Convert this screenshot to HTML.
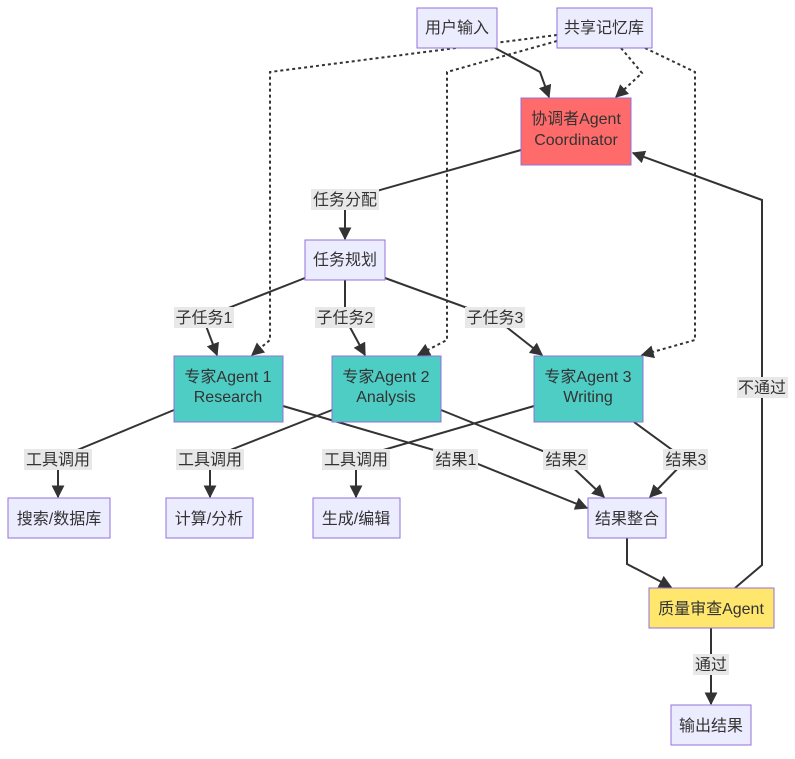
<!DOCTYPE html>
<html><head><meta charset="utf-8"><style>
html,body{margin:0;padding:0;background:#fff;}
svg text{font-family:"Liberation Sans","Noto Sans CJK SC",sans-serif;font-size:16px;fill:#333;}
</style></head><body>
<svg width="795" height="754" viewBox="0 0 795 754" xmlns="http://www.w3.org/2000/svg">
<defs>
<marker id="a" viewBox="0 0 10 10" refX="9" refY="5" markerWidth="13" markerHeight="13" orient="auto-start-reverse" markerUnits="userSpaceOnUse"><path d="M0,0 L10,5 L0,10 z" fill="#333"/></marker>
</defs>
<g fill="none" stroke="#333" stroke-width="2">
<path d="M495,48 L540,72 L549,97" marker-end="url(#a)"/>
<path d="M621,48 L642,73 L616,97" stroke-dasharray="3,3" marker-end="url(#a)"/>
<path d="M557,35 L270,72 L270,340 L252,355" stroke-dasharray="3,3" marker-end="url(#a)"/>
<path d="M557,41 L447,72 L447,340 L418,355" stroke-dasharray="3,3" marker-end="url(#a)"/>
<path d="M645,48 L695,72 L695,340 L642,355" stroke-dasharray="3,3" marker-end="url(#a)"/>
<path d="M521,150 L345,200 L345,239" marker-end="url(#a)"/>
<path d="M305,278 L203,318 L217,355" marker-end="url(#a)"/>
<path d="M345,280 L345,318 L365,355" marker-end="url(#a)"/>
<path d="M385,278 L495,318 L542,355" marker-end="url(#a)"/>
<path d="M174,410 L58,458 L58,497" marker-end="url(#a)"/>
<path d="M332,410 L210,458 L210,497" marker-end="url(#a)"/>
<path d="M534,406 L356,458 L356,497" marker-end="url(#a)"/>
<path d="M283,406 L468,460 L587,508" marker-end="url(#a)"/>
<path d="M441,410 L565,460 L604,497" marker-end="url(#a)"/>
<path d="M634,422 L686,460 L650,497" marker-end="url(#a)"/>
<path d="M627,538 L627,564 L671,587" marker-end="url(#a)"/>
<path d="M735,588 L762,565 L762,200 L633,153" marker-end="url(#a)"/>
<path d="M711,628 L711,704" marker-end="url(#a)"/>
</g>
<g fill="#e8e8e8">
<rect x="311" y="189" width="68" height="21"/>
<rect x="174" y="307" width="60" height="21"/>
<rect x="315" y="307" width="60" height="21"/>
<rect x="465" y="307" width="60" height="21"/>
<rect x="24" y="449" width="68" height="21"/>
<rect x="176" y="449" width="68" height="21"/>
<rect x="322" y="449" width="68" height="21"/>
<rect x="433" y="449" width="45" height="21"/>
<rect x="543" y="449" width="45" height="21"/>
<rect x="663" y="449" width="45" height="21"/>
<rect x="737" y="377" width="51" height="21"/>
<rect x="693" y="654" width="36" height="21"/>
</g>
<g text-anchor="middle">
<text x="345" y="205">任务分配</text>
<text x="204" y="323">子任务1</text>
<text x="345" y="323">子任务2</text>
<text x="495" y="323">子任务3</text>
<text x="58" y="465">工具调用</text>
<text x="210" y="465">工具调用</text>
<text x="356" y="465">工具调用</text>
<text x="456" y="465">结果1</text>
<text x="566" y="465">结果2</text>
<text x="686" y="465">结果3</text>
<text x="762" y="393">不通过</text>
<text x="711" y="670">通过</text>
</g>
<g stroke="#9370db" stroke-width="1">
<rect x="417" y="8" width="80" height="40" fill="#ececff"/>
<rect x="557" y="8" width="95" height="40" fill="#ececff"/>
<rect x="521" y="98" width="110" height="67" fill="#ff6b6b"/>
<rect x="305" y="240" width="80" height="40" fill="#ececff"/>
<rect x="174" y="356" width="109" height="66" fill="#4ecdc4"/>
<rect x="332" y="356" width="109" height="66" fill="#4ecdc4"/>
<rect x="534" y="356" width="109" height="66" fill="#4ecdc4"/>
<rect x="8" y="498" width="102" height="40" fill="#ececff"/>
<rect x="166" y="498" width="87" height="40" fill="#ececff"/>
<rect x="313" y="498" width="87" height="40" fill="#ececff"/>
<rect x="588" y="498" width="78" height="40" fill="#ececff"/>
<rect x="649" y="588" width="125" height="40" fill="#ffe66d"/>
<rect x="671" y="705" width="80" height="40" fill="#ececff"/>
</g>
<g text-anchor="middle">
<text x="457" y="33">用户输入</text>
<text x="604" y="33">共享记忆库</text>
<text x="576" y="124">协调者Agent</text>
<text x="576" y="145">Coordinator</text>
<text x="345" y="265">任务规划</text>
<text x="228" y="382">专家Agent 1</text>
<text x="228" y="402">Research</text>
<text x="386" y="382">专家Agent 2</text>
<text x="386" y="402">Analysis</text>
<text x="588" y="382">专家Agent 3</text>
<text x="588" y="402">Writing</text>
<text x="59" y="524">搜索/数据库</text>
<text x="209" y="524">计算/分析</text>
<text x="356" y="524">生成/编辑</text>
<text x="627" y="524">结果整合</text>
<text x="711" y="614">质量审查Agent</text>
<text x="711" y="731">输出结果</text>
</g>
</svg>
</body></html>
